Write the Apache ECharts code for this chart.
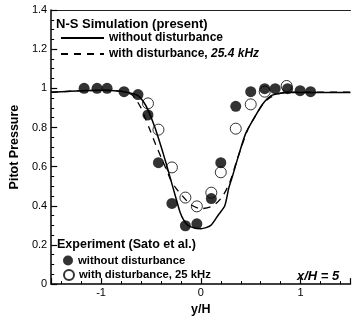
<!DOCTYPE html>
<html>
<head>
<meta charset="utf-8">
<script src="https://cdn.jsdelivr.net/npm/echarts@6/dist/echarts.min.js"></script>
<style>
html,body{margin:0;padding:0;background:#fff;}
#chart{width:352px;height:321px;}
</style>
</head>
<body>
<div id="chart"></div>
<script>
// N-S simulation, without disturbance (solid)
const solidX = [-1.5,-1.2,-1.0,-0.8,-0.7,-0.63,-0.58,-0.53,-0.46,-0.4,-0.35,-0.3,-0.25,-0.21,-0.17,-0.13,-0.07,0,0.1,0.18,0.24,0.28,0.32,0.377,0.45,0.54,0.62,0.705,0.8,0.87,1.2,1.5];
const solidY = [0.98,0.988,0.99,0.985,0.975,0.963,0.935,0.89,0.8,0.705,0.62,0.53,0.44,0.37,0.325,0.3,0.288,0.283,0.3,0.357,0.4,0.49,0.556,0.655,0.77,0.853,0.92,0.963,0.975,0.978,0.978,0.978];
// N-S simulation, with disturbance 25.4 kHz (dashed)
const dashX = [-1.5,-1.0,-0.8,-0.7,-0.66,-0.6,-0.52,-0.45,-0.4,-0.35,-0.3,-0.25,-0.21,-0.15,-0.1,0,0.1,0.16,0.22,0.29,0.36,0.42,0.48,0.56,0.63,0.7,0.8,0.9,1.5];
const dashY = [0.98,0.99,0.985,0.97,0.95,0.9,0.8,0.71,0.65,0.59,0.53,0.49,0.465,0.43,0.405,0.385,0.395,0.415,0.45,0.52,0.63,0.72,0.8,0.87,0.925,0.955,0.975,0.98,0.98];
// Experiment, without disturbance (filled)
const expFilledX = [-1.17,-1.04,-0.94,-0.77,-0.63,-0.53,-0.425,-0.29,-0.155,-0.04,0.105,0.2,0.35,0.5,0.64,0.745,0.87,0.995,1.1];
const expFilledY = [1.0,1.0,1.0,0.983,0.968,0.864,0.62,0.412,0.298,0.308,0.437,0.62,0.908,0.983,0.998,0.998,0.998,0.988,0.983];
// Experiment, with disturbance 25 kHz (open)
const expOpenX = [-0.53,-0.425,-0.29,-0.155,-0.04,0.105,0.2,0.35,0.5,0.64,0.86];
const expOpenY = [0.923,0.789,0.596,0.442,0.397,0.467,0.571,0.794,0.918,0.983,1.012];

const NAME_SOLID = 'without disturbance';
const NAME_DASH = 'with disturbance, 25.4 kHz';
const NAME_FILLED = 'without disturbance ';
const NAME_OPEN = 'with disturbance, 25 kHz';

const zip = (xs, ys) => xs.map((x, i) => [x, ys[i]]);
const FONT = 'Liberation Sans, Arial, sans-serif';

const lineLegend = (name, top) => ({
  data: [name], left: 60, top: top, padding: 0, itemWidth: 43, itemHeight: 14,
  itemStyle: {opacity: 0},
  formatter: n => n === NAME_DASH ? 'with disturbance, {i|25.4 kHz}' : n,
  textStyle: {fontFamily: FONT, fontSize: 12, fontWeight: 'bold', color: '#000',
    rich: {i: {fontFamily: FONT, fontSize: 12, fontWeight: 'bold', fontStyle: 'italic', color: '#000'}}}
});
const markLegend = (name, top) => ({
  data: [name], left: 63, top: top, padding: 0, itemWidth: 10, itemHeight: 10,
  textStyle: {fontFamily: FONT, fontSize: 11.3, fontWeight: 'bold', color: '#000'}
});

const chart = echarts.init(document.getElementById('chart'), null, {renderer: 'canvas'});
chart.setOption({
  animation: false,
  backgroundColor: '#fff',
  grid: {left: 41.5, top: 10, width: 309, height: 282.5, containLabel: false},
  title: [
    {text: 'N-S Simulation (present)', left: 56, top: 18, padding: 0,
     textStyle: {fontFamily: FONT, fontSize: 13, fontWeight: 'bold', color: '#000'}},
    {text: 'Experiment (Sato et al.)', left: 57, top: 238, padding: 0,
     textStyle: {fontFamily: FONT, fontSize: 12.5, fontWeight: 'bold', color: '#000'}},
    {text: 'x/H = 5', left: 297, top: 270, padding: 0,
     textStyle: {fontFamily: FONT, fontSize: 13, fontWeight: 'bold', fontStyle: 'italic', color: '#000'}}
  ],
  legend: [
    lineLegend(NAME_SOLID, 32),
    lineLegend(NAME_DASH, 48),
    markLegend(NAME_FILLED, 255),
    markLegend(NAME_OPEN, 269)
  ],
  xAxis: [
    {type: 'value', min: -1.5, max: 1.5, minInterval: 1, maxInterval: 1, position: 'bottom',
     name: 'y/H', nameLocation: 'middle', nameGap: 16,
     nameTextStyle: {fontFamily: FONT, fontSize: 12.5, fontWeight: 'bold', color: '#000'},
     axisLine: {onZero: false, lineStyle: {color: '#000', width: 1.5}},
     axisTick: {inside: true, length: 6, lineStyle: {color: '#000', width: 1.2}},
     minorTick: {show: true, splitNumber: 5, length: 3, lineStyle: {color: '#000', width: 1}},
     axisLabel: {showMinLabel: false, showMaxLabel: false, margin: 3,
       fontFamily: FONT, fontSize: 11, color: '#000'},
     splitLine: {show: false}},
    {type: 'value', min: -1.5, max: 1.5, position: 'top',
     axisLine: {onZero: false, lineStyle: {color: '#222', width: 1}},
     axisTick: {show: false}, axisLabel: {show: false}, splitLine: {show: false}}
  ],
  yAxis: [
    {type: 'value', min: 0, max: 1.4, interval: 0.2,
     name: 'Pitot Pressure', nameLocation: 'middle', nameGap: 23,
     nameTextStyle: {fontFamily: FONT, fontSize: 12.5, fontWeight: 'bold', color: '#000'},
     axisLine: {show: true, onZero: false, lineStyle: {color: '#000', width: 1.5}},
     axisTick: {inside: true, length: 6, lineStyle: {color: '#000', width: 1.2}},
     minorTick: {show: true, splitNumber: 4, length: 3, lineStyle: {color: '#000', width: 1}},
     axisLabel: {margin: 4, fontFamily: FONT, fontSize: 11, color: '#000'},
     splitLine: {show: false}}
  ],
  series: [
    {name: NAME_OPEN, type: 'scatter', data: zip(expOpenX, expOpenY),
     symbol: 'circle', symbolSize: 11, z: 2,
     itemStyle: {color: '#fff', borderColor: '#000', borderWidth: 1}},
    {name: NAME_FILLED, type: 'scatter', data: zip(expFilledX, expFilledY),
     symbol: 'circle', symbolSize: 11, z: 3,
     itemStyle: {color: '#000', borderColor: '#000', borderWidth: 0}},
    {name: NAME_SOLID, type: 'line', data: zip(solidX, solidY), smooth: 0.25,
     symbol: 'none', z: 4, lineStyle: {color: '#000', width: 1.5, type: 'solid'}, itemStyle: {color: '#000'}},
    {name: NAME_DASH, type: 'line', data: zip(dashX, dashY), smooth: 0.25,
     symbol: 'none', z: 4, lineStyle: {color: '#000', width: 1.3, type: [7, 6]}, itemStyle: {color: '#000'}}
  ]
});
</script>
</body>
</html>
